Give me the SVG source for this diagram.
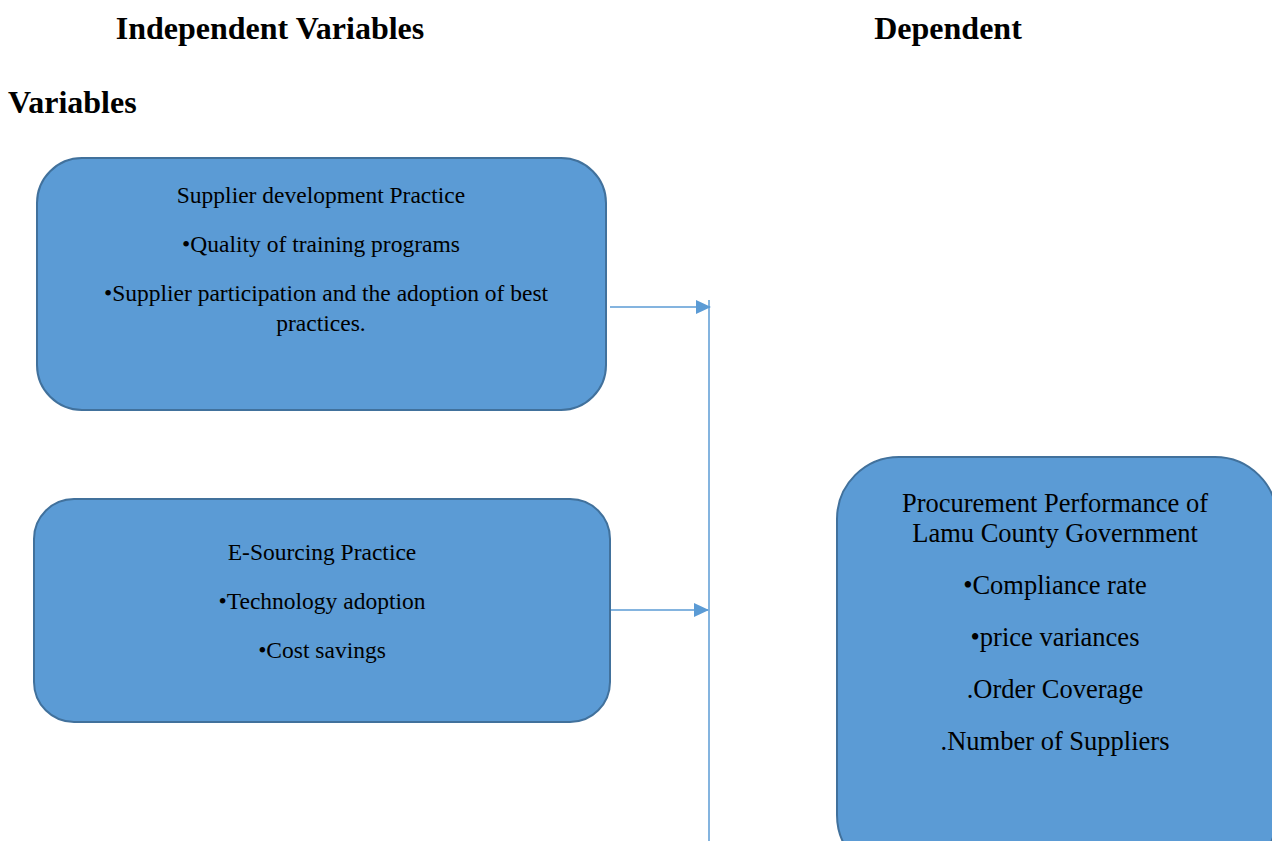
<svg xmlns="http://www.w3.org/2000/svg" width="1272" height="841" viewBox="0 0 1272 841">
<style>
.hd{font-family:"Liberation Serif","Times New Roman",serif;font-weight:bold;font-size:32px;fill:#000}
.bx{fill:#5B9BD5;stroke:#41719C;stroke-width:2}
.t{font-family:"Liberation Serif","Times New Roman",serif;font-size:23.5px;fill:#000;text-anchor:middle}
.t2{font-family:"Liberation Serif","Times New Roman",serif;font-size:26.5px;fill:#000;text-anchor:middle}
.c{stroke:#5B9BD5;stroke-width:1.5;fill:none}
</style>
<defs>
<marker id="ah" markerWidth="15" markerHeight="14" refX="14" refY="7" orient="auto" markerUnits="userSpaceOnUse" viewBox="0 0 15 14">
<path d="M0,0 L15,7 L0,14 z" fill="#5B9BD5"/>
</marker>
</defs>
<rect width="1272" height="841" fill="#fff"/>
<g id="headers">
<text class="hd" x="270" y="39" text-anchor="middle">Independent Variables</text>
<text class="hd" x="948" y="39" text-anchor="middle">Dependent</text>
<text class="hd" x="8" y="113">Variables</text>
</g>
<g id="connectors">
<line class="c" x1="709" y1="300" x2="709" y2="841"/>
<line class="c" x1="610" y1="307" x2="710" y2="307" marker-end="url(#ah)"/>
<line class="c" x1="611" y1="610" x2="708" y2="610" marker-end="url(#ah)"/>
</g>
<g id="node-supplier">
<rect class="bx" x="37" y="158" width="569" height="252" rx="45" ry="45"/>
<text class="t" x="321" y="203">Supplier development Practice</text>
<text class="t" x="321" y="252">•Quality of training programs</text>
<text class="t" x="326" y="301">•Supplier participation and the adoption of best</text>
<text class="t" x="321" y="331">practices.</text>
</g>
<g id="node-esourcing">
<rect class="bx" x="34" y="499" width="576" height="223" rx="40" ry="40"/>
<text class="t" x="322" y="560">E-Sourcing Practice</text>
<text class="t" x="322" y="609">•Technology adoption</text>
<text class="t" x="322" y="658">•Cost savings</text>
</g>
<g id="node-procurement">
<rect class="bx" x="837" y="457" width="440" height="420" rx="62" ry="62"/>
<text class="t2" x="1055" y="512">Procurement Performance of</text>
<text class="t2" x="1055" y="542">Lamu County Government</text>
<text class="t2" x="1055" y="594">•Compliance rate</text>
<text class="t2" x="1055" y="646">•price variances</text>
<text class="t2" x="1055" y="698">.Order Coverage</text>
<text class="t2" x="1055" y="750">.Number of Suppliers</text>
</g>
</svg>
